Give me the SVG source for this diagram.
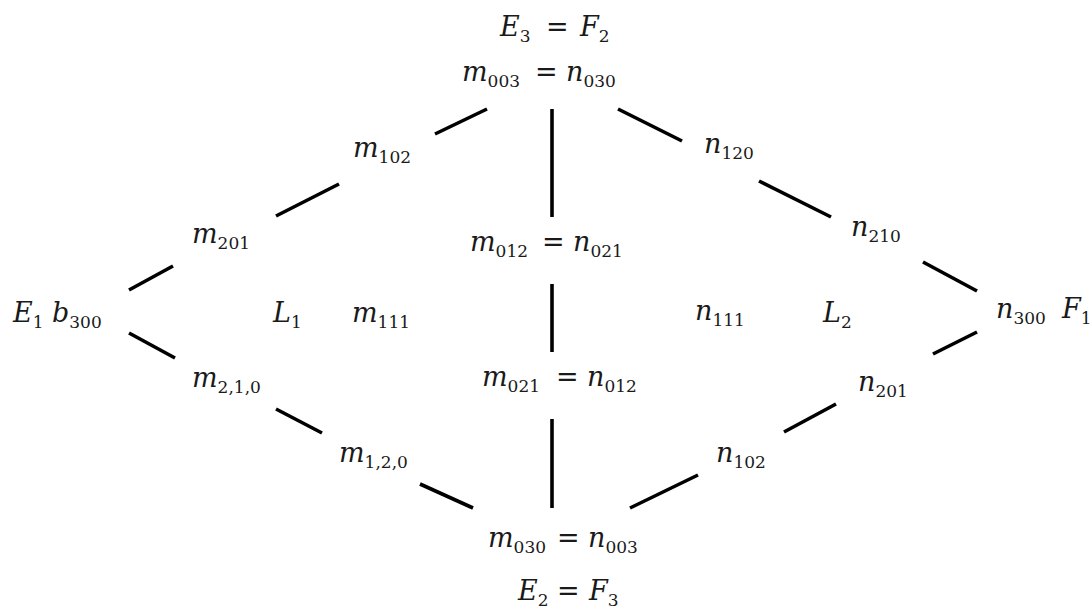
<svg xmlns="http://www.w3.org/2000/svg" width="1092" height="610" viewBox="0 0 1092 610">
<style>
text{font-family:"DejaVu Serif","Liberation Serif",serif;font-size:27px;fill:#1a1a1a}
.v{font-style:italic}
.s{font-size:17px;font-style:normal;font-family:"DejaVu Serif","Liberation Serif",serif}
.c line{stroke:#000;stroke-width:3.6;stroke-linecap:butt}
</style>
<rect width="1092" height="610" fill="#fff"/>
<g class="c" id="connectors">
<line x1="435" y1="134" x2="487" y2="109"/>
<line x1="276" y1="216" x2="339" y2="184"/>
<line x1="129" y1="290" x2="173" y2="266"/>
<line x1="552" y1="109" x2="552" y2="217"/>
<line x1="552" y1="284" x2="552" y2="352"/>
<line x1="552" y1="419" x2="552" y2="508"/>
<line x1="618" y1="109" x2="682" y2="141"/>
<line x1="759" y1="181" x2="831" y2="217"/>
<line x1="923" y1="262" x2="977" y2="291"/>
<line x1="129" y1="333" x2="175" y2="358"/>
<line x1="276" y1="409" x2="322" y2="433"/>
<line x1="420" y1="484" x2="473" y2="508"/>
<line x1="630" y1="508" x2="698" y2="475"/>
<line x1="784" y1="432" x2="836" y2="404"/>
<line x1="933" y1="354" x2="977" y2="332"/>
</g>
<g id="E3F2"><text x="500" y="36"><tspan class="v">E</tspan><tspan class="s" dy="6">3</tspan></text><text x="546" y="36">=</text><text x="580" y="36"><tspan class="v">F</tspan><tspan class="s" dy="6">2</tspan></text></g>
<g id="m003"><text x="462" y="81"><tspan class="v">m</tspan><tspan class="s" dy="6">003</tspan></text><text x="535" y="81">=</text><text x="566" y="81"><tspan class="v">n</tspan><tspan class="s" dy="6">030</tspan></text></g>
<g id="m102"><text x="353" y="157"><tspan class="v">m</tspan><tspan class="s" dy="6">102</tspan></text></g>
<g id="n120"><text x="704" y="153"><tspan class="v">n</tspan><tspan class="s" dy="6">120</tspan></text></g>
<g id="m201"><text x="192" y="243"><tspan class="v">m</tspan><tspan class="s" dy="6">201</tspan></text></g>
<g id="m012"><text x="470" y="251"><tspan class="v">m</tspan><tspan class="s" dy="6">012</tspan></text><text x="542" y="251">=</text><text x="573" y="251"><tspan class="v">n</tspan><tspan class="s" dy="6">021</tspan></text></g>
<g id="n210"><text x="851" y="236"><tspan class="v">n</tspan><tspan class="s" dy="6">210</tspan></text></g>
<g id="b300"><text x="13" y="322"><tspan class="v">E</tspan><tspan class="s" dy="6">1</tspan></text><text x="52" y="322"><tspan class="v">b</tspan><tspan class="s" dy="6">300</tspan></text></g>
<g id="L1"><text x="273" y="322"><tspan class="v">L</tspan><tspan class="s" dy="6">1</tspan></text></g>
<g id="m111"><text x="352" y="322"><tspan class="v">m</tspan><tspan class="s" dy="6">111</tspan></text></g>
<g id="n111"><text x="695" y="320"><tspan class="v">n</tspan><tspan class="s" dy="6">111</tspan></text></g>
<g id="L2"><text x="823" y="322"><tspan class="v">L</tspan><tspan class="s" dy="6">2</tspan></text></g>
<g id="n300"><text x="996" y="318"><tspan class="v">n</tspan><tspan class="s" dy="6">300</tspan></text><text x="1062" y="318"><tspan class="v">F</tspan><tspan class="s" dy="6">1</tspan></text></g>
<g id="m210"><text x="192" y="387"><tspan class="v">m</tspan><tspan class="s" dy="6">2,1,0</tspan></text></g>
<g id="m021"><text x="482" y="386"><tspan class="v">m</tspan><tspan class="s" dy="6">021</tspan></text><text x="556" y="386">=</text><text x="587" y="386"><tspan class="v">n</tspan><tspan class="s" dy="6">012</tspan></text></g>
<g id="n201"><text x="858" y="391"><tspan class="v">n</tspan><tspan class="s" dy="6">201</tspan></text></g>
<g id="m120"><text x="339" y="462"><tspan class="v">m</tspan><tspan class="s" dy="6">1,2,0</tspan></text></g>
<g id="n102"><text x="716" y="462"><tspan class="v">n</tspan><tspan class="s" dy="6">102</tspan></text></g>
<g id="m030"><text x="488" y="547"><tspan class="v">m</tspan><tspan class="s" dy="6">030</tspan></text><text x="557" y="547">=</text><text x="588" y="547"><tspan class="v">n</tspan><tspan class="s" dy="6">003</tspan></text></g>
<g id="E2F3"><text x="518" y="600"><tspan class="v">E</tspan><tspan class="s" dy="6">2</tspan></text><text x="557" y="600">=</text><text x="589" y="600"><tspan class="v">F</tspan><tspan class="s" dy="6">3</tspan></text></g>
</svg>
